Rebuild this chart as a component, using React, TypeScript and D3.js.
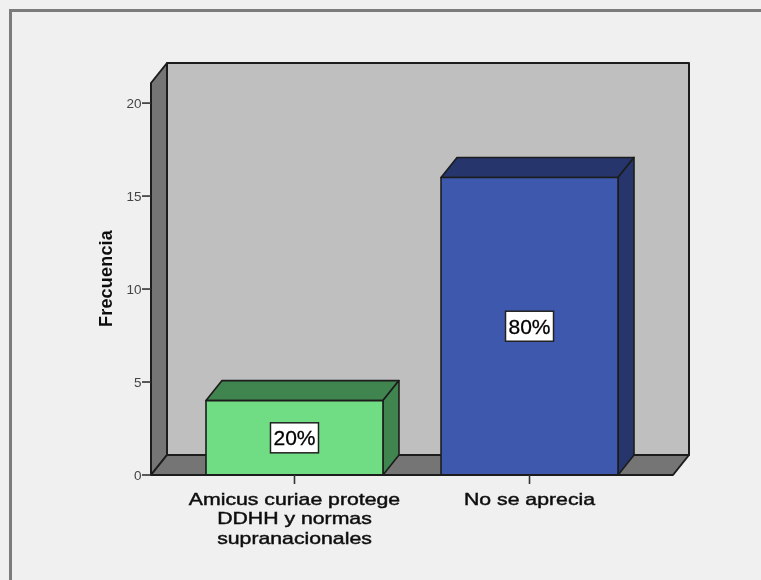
import React from "react";
import * as d3 from "d3";

const categories = [
  "Amicus curiae protege DDHH y normas supranacionales",
  "No se aprecia",
];
const categoryLines = [
  ["Amicus curiae protege", "DDHH y normas", "supranacionales"],
  ["No se aprecia"],
];
const frequencies = [4, 16];
const percentLabels = ["20%", "80%"];
const yTicks = [0, 5, 10, 15, 20];
const frontColors = ["#70dc84", "#3e58ac"];
const shadeColors = ["#41844f", "#25366c"];

const WIDTH = 761;
const HEIGHT = 580;
const DEPTH_X = 16;
const DEPTH_Y = -20;
const STROKE = "#1c1c1c";
const FONT = "Liberation Sans, Arial, sans-serif";

const plot = { left: 151, right: 673, bottom: 475, top: 83 };

export default function App() {
  const yScale = d3
    .scaleLinear()
    .domain([0, 21.08])
    .range([plot.bottom, plot.top]);
  const xScale = d3
    .scaleBand<string>()
    .domain(categories)
    .range([plot.left, plot.right])
    .paddingInner(0.247)
    .paddingOuter(0.234);

  const poly = (pts: [number, number][]) =>
    (d3.line()(pts) as string) + "Z";

  // Paredes del fondo en falso 3D
  const { left, right, top, bottom } = plot;
  const back: [number, number][] = [
    [left + DEPTH_X, top + DEPTH_Y],
    [right + DEPTH_X, top + DEPTH_Y],
    [right + DEPTH_X, bottom + DEPTH_Y],
    [left + DEPTH_X, bottom + DEPTH_Y],
  ];
  const sideWall: [number, number][] = [
    [left, top],
    [left + DEPTH_X, top + DEPTH_Y],
    [left + DEPTH_X, bottom + DEPTH_Y],
    [left, bottom],
  ];
  const floor: [number, number][] = [
    [left, bottom],
    [left + DEPTH_X, bottom + DEPTH_Y],
    [right + DEPTH_X, bottom + DEPTH_Y],
    [right, bottom],
  ];

  return (
    <svg
      width={WIDTH}
      height={HEIGHT}
      style={{ position: "absolute", left: 0, top: 0, background: "#f0f0f0" }}
      fontFamily={FONT}
    >
      {/* La captura original esta algo desenfocada */}
      <defs>
        <filter
          id="soft"
          filterUnits="userSpaceOnUse"
          x={0}
          y={0}
          width={WIDTH}
          height={HEIGHT}
        >
          <feGaussianBlur stdDeviation={0.45} />
        </filter>
      </defs>
      <rect width={WIDTH} height={HEIGHT} fill="#f0f0f0" />
      <g filter="url(#soft)">
        {/* Marco exterior */}
        <g stroke="#7b7b7b" strokeWidth={3}>
          <line x1={9} y1={10.5} x2={WIDTH + 4} y2={10.5} />
          <line x1={10.5} y1={9} x2={10.5} y2={HEIGHT + 4} />
        </g>

        {/* Fondo */}
        <g stroke={STROKE} strokeWidth={2} strokeLinejoin="round">
          <path d={poly(back)} fill="#bfbfbf" />
          <path d={poly(sideWall)} fill="#757575" />
          <path d={poly(floor)} fill="#757575" />
        </g>

        {/* Barras */}
        {categories.map((c, i) => {
          const x0 = xScale(c) as number;
          const x1 = x0 + xScale.bandwidth();
          const y1 = yScale(frequencies[i]);
          const topFace: [number, number][] = [
            [x0, y1],
            [x0 + DEPTH_X, y1 + DEPTH_Y],
            [x1 + DEPTH_X, y1 + DEPTH_Y],
            [x1, y1],
          ];
          const sideFace: [number, number][] = [
            [x1, y1],
            [x1 + DEPTH_X, y1 + DEPTH_Y],
            [x1 + DEPTH_X, bottom + DEPTH_Y],
            [x1, bottom],
          ];
          return (
            <g key={c} stroke={STROKE} strokeWidth={1.6} strokeLinejoin="round">
              <path d={poly(topFace)} fill={shadeColors[i]} />
              <path d={poly(sideFace)} fill={shadeColors[i]} />
              <rect
                x={x0}
                y={y1}
                width={x1 - x0}
                height={bottom - y1}
                fill={frontColors[i]}
              />
            </g>
          );
        })}

        {/* Etiquetas de porcentaje */}
        {categories.map((c, i) => {
          const cx = (xScale(c) as number) + xScale.bandwidth() / 2;
          const cy = yScale(frequencies[i] / 2);
          return (
            <g key={c}>
              <rect
                x={cx - 24}
                y={cy - 15}
                width={48}
                height={30}
                fill="#ffffff"
                stroke="#222222"
                strokeWidth={1.5}
              />
              <text
                x={cx}
                y={cy + 7.5}
                textAnchor="middle"
                fontSize={21}
                fill="#000000"
                stroke="#000000"
                strokeWidth={0.3}
              >
                {percentLabels[i]}
              </text>
            </g>
          );
        })}

        {/* Eje Y */}
        <line
          x1={left}
          x2={left}
          y1={bottom}
          y2={top}
          stroke={STROKE}
          strokeWidth={2}
        />
        {yTicks.map((t) => (
          <g key={t}>
            <line
              x1={left - 9}
              x2={left}
              y1={yScale(t)}
              y2={yScale(t)}
              stroke="#333333"
              strokeWidth={1.6}
            />
            <text
              x={left - 9.5}
              y={yScale(t) + 5}
              textAnchor="end"
              fontSize={13.5}
              fill="#444444"
            >
              {t}
            </text>
          </g>
        ))}
        <text
          transform="translate(112,278.5) rotate(-90)"
          textAnchor="middle"
          fontSize={18}
          fontWeight="bold"
          letterSpacing={0.2}
          fill="#111111"
        >
          Frecuencia
        </text>

        {/* Eje X */}
        <line
          x1={left}
          x2={right}
          y1={bottom}
          y2={bottom}
          stroke={STROKE}
          strokeWidth={2}
        />
        {categories.map((c, i) => {
          const cx = (xScale(c) as number) + xScale.bandwidth() / 2;
          return (
            <g key={c}>
              <line
                x1={cx}
                x2={cx}
                y1={bottom}
                y2={bottom + 9}
                stroke="#333333"
                strokeWidth={1.6}
              />
              {categoryLines[i].map((line, j) => (
                <text
                  key={line}
                  transform={`translate(${cx},${504.5 + j * 19.7}) scale(1.25,1)`}
                  textAnchor="middle"
                  fontSize={17}
                  fill="#111111"
                  stroke="#111111"
                  strokeWidth={0.45}
                >
                  {line}
                </text>
              ))}
            </g>
          );
        })}
      </g>
    </svg>
  );
}
